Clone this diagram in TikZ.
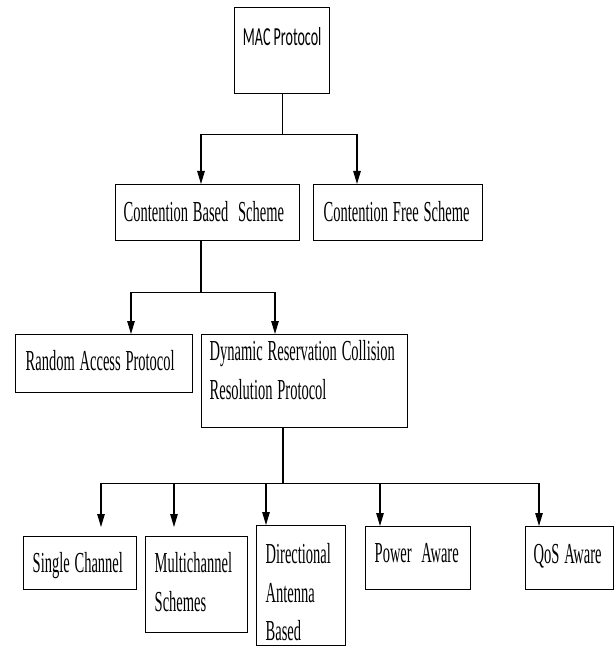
\documentclass[tikz,border=0pt]{standalone}
\usepackage{fontspec}
\usepackage{graphicx}
\usetikzlibrary{arrows.meta,calc}
\newfontfamily\tnrfont{Liberation Serif}
\newfontfamily\calfont{Carlito}
\newcommand{\sq}[1]{\scalebox{0.5}[1]{#1}}
\newcommand{\boxfont}{\tnrfont\fontsize{29}{38.5}\selectfont}
\newcommand{\macfont}{\calfont\fontsize{26}{30}\selectfont}
\begin{document}
\begin{tikzpicture}[x=1pt,y=-1pt,
  boxstyle/.style={draw=black,line width=1.4pt,rectangle,anchor=north west,
    inner ysep=0pt,inner xsep=8pt,align=left,font=\boxfont},
  conn/.style={draw=black,line width=1.1pt},
  arr/.style={conn,-{Triangle[length=13pt,width=7.5pt]}}]
\useasboundingbox (0,0) rectangle (615,655);
\fill[white] (0,0) rectangle (615,655);
% boxes
\node[boxstyle,align=center,minimum width=95pt,text height=38pt,text depth=48pt,
  font=\macfont] (mac) at (234,7) {\scalebox{0.54}[1]{MAC Protocol}};
\node[boxstyle,text width=168pt,text height=37pt,text depth=19pt] (cb) at (115,184) {\sq{Contention Based\ \ Scheme}};
\node[boxstyle,inner xsep=10pt,text width=149pt,text height=37pt,text depth=19pt] (cf) at (313,184) {\sq{Contention Free Scheme}};
\node[boxstyle,inner xsep=10pt,text width=157pt,text height=36pt,text depth=22pt] (ra) at (15,334) {\sq{Random Access Protocol}};
\node[boxstyle,text width=190pt,text height=26pt,text depth=67pt] (dyn) at (201,334) {\sq{Dynamic Reservation Collision}\\\sq{Resolution Protocol}};
\node[boxstyle,inner xsep=9pt,text width=95pt,text height=36pt,text depth=17pt] (single) at (23,536) {\sq{Single Channel}};
\node[boxstyle,inner xsep=9pt,text width=84pt,text height=36pt,text depth=60pt] (multi) at (145,536) {\sq{Multichannel}\\\sq{Schemes}};
\node[boxstyle,inner xsep=9pt,text width=71pt,text height=38pt,text depth=82pt] (dir) at (256,525) {\sq{Directional}\\\sq{Antenna}\\\sq{Based}};
\node[boxstyle,inner xsep=9pt,text width=87pt,text height=36pt,text depth=27pt] (power) at (365,526) {\sq{Power\ \ Aware}};
\node[boxstyle,inner xsep=8pt,text width=72pt,text height=37pt,text depth=26pt] (qos) at (525,526) {\sq{QoS Aware}};
% connectors level 1
\draw[conn] (mac.south) -- ++(0,40) coordinate (j1);
\draw[arr] (j1) -| ([xshift=86pt]cb.north west);
\draw[arr] (j1) -| ([xshift=44pt]cf.north west);
% level 2
\draw[conn] ([xshift=86pt]cb.south west) -- ++(0,51) coordinate (j2);
\draw[arr] (j2) -| ([xshift=116pt]ra.north west);
\draw[arr] (j2) -| ([xshift=74pt]dyn.north west);
% level 3
\draw[conn] ([xshift=82pt]dyn.south west) -- ++(0,55) coordinate (j3);
\draw[arr] (j3) -| ([xshift=78pt,yshift=9pt]single.north west);
\draw[arr] (j3) -| ([xshift=29pt,yshift=9pt]multi.north west);
\draw[arr] (j3) -| ([xshift=10pt]dir.north west);
\draw[arr] (j3) -| ([xshift=15pt]power.north west);
\draw[arr] (j3) -| ([xshift=14pt]qos.north west);
\end{tikzpicture}
\end{document}
